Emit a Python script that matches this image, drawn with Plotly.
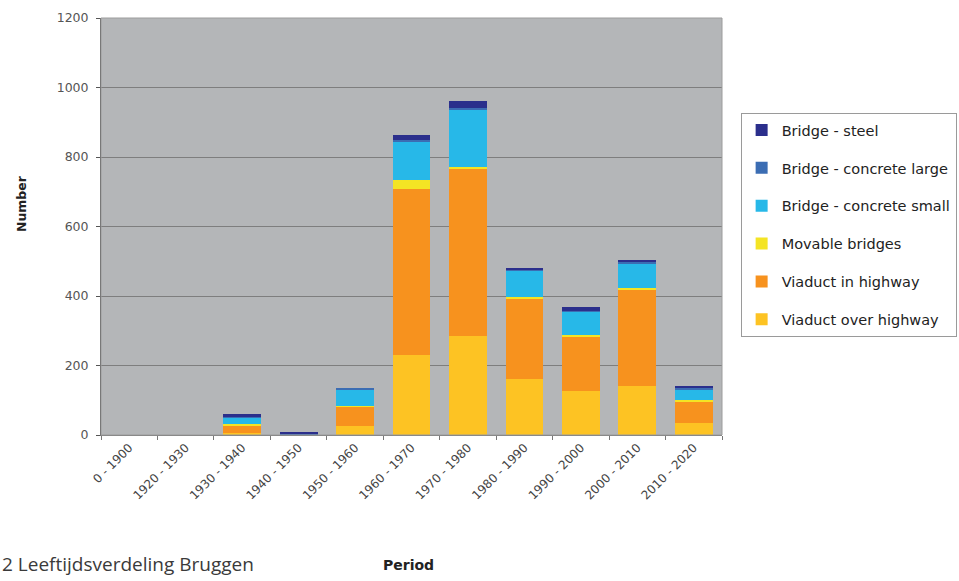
import plotly.graph_objects as go

# Age distribution of bridges per construction period
periods = ["0 - 1900", "1920 - 1930", "1930 - 1940", "1940 - 1950", "1950 - 1960",
           "1960 - 1970", "1970 - 1980", "1980 - 1990", "1990 - 2000", "2000 - 2010",
           "2010 - 2020"]

viaduct_over_highway = [0, 0, 5, 0, 26, 230, 284, 160, 127, 141, 34]
viaduct_in_highway = [0, 0, 20, 0, 55, 478, 484, 232, 155, 279, 62]
movable_bridges = [0, 0, 6, 0, 3, 26, 4, 5, 5, 2, 4]
bridge_concrete_small = [0, 0, 19, 0, 46, 111, 165, 76, 68, 72, 31]
bridge_concrete_large = [0, 0, 2, 3, 3, 4, 5, 3, 3, 3, 4]
bridge_steel = [0, 0, 8, 6, 0, 13, 19, 6, 9, 6, 6]

series = [
    ("Viaduct over highway", viaduct_over_highway, "#FDC323"),
    ("Viaduct in highway", viaduct_in_highway, "#F7921E"),
    ("Movable bridges", movable_bridges, "#F4E424"),
    ("Bridge - concrete small", bridge_concrete_small, "#27B8E8"),
    ("Bridge - concrete large", bridge_concrete_large, "#3B6DB3"),
    ("Bridge - steel", bridge_steel, "#2B2F8C"),
]

fig = go.Figure()
n = len(series)
for i, (name, values, color) in enumerate(series):
    fig.add_trace(go.Bar(
        x=periods, y=values, name=name, legendgroup=str(i),
        legendrank=n - i,
        marker=dict(color=color, line=dict(width=0)),
    ))

font_main = "DejaVu Sans"

fig.update_layout(
    width=959, height=581,
    barmode="stack", bargap=0.33,
    paper_bgcolor="white", plot_bgcolor="#B4B6B8",
    margin=dict(l=101, r=237, t=18, b=146, autoexpand=False),
    font=dict(family=font_main, size=12, color="#333333"),
    showlegend=True,
    legend=dict(
        x=1.03, y=0.772, xanchor="left", yanchor="top",
        traceorder="grouped", tracegroupgap=16,
        bordercolor="#9A9A9A", borderwidth=1, bgcolor="white",
        font=dict(family=font_main, size=14.5, color="#222222"),
        itemwidth=30,
    ),
    xaxis=dict(
        type="category", tickangle=-45, ticks="outside", tickson="boundaries",
        ticklen=4, tickcolor="#777777", showline=True, linecolor="#777777",
        linewidth=1, tickfont=dict(family=font_main, size=12, color="#444444"),
        showgrid=False, automargin=False,
    ),
    yaxis=dict(
        range=[0, 1200], dtick=200, ticks="outside", ticklen=4,
        tickcolor="#555555", showline=True, linecolor="#555555", linewidth=1,
        showgrid=True, gridcolor="#7E7E7E", gridwidth=1, ticklabelstandoff=5,
        tickfont=dict(family=font_main, size=12.5, color="#555555"), zeroline=False,
        automargin=False,
    ),
    annotations=[
        dict(text="<b>Number</b>", textangle=-90, xref="paper", yref="paper",
             x=-0.129, y=0.556, xanchor="center", yanchor="middle",
             showarrow=False, font=dict(family=font_main, size=12.5, color="#222222")),
        dict(text="<b>Period</b>", xref="paper", yref="paper",
             x=0.495, y=-0.312, xanchor="center", yanchor="middle",
             showarrow=False, font=dict(family=font_main, size=14, color="#222222")),
        dict(text="2 Leeftijdsverdeling Bruggen", xref="paper", yref="paper",
             x=-0.1626, y=-0.31, xanchor="left", yanchor="middle",
             showarrow=False,
             font=dict(family="Open Sans, sans-serif", size=19, color="#3A3A3A")),
    ],
    shapes=[
        dict(type="rect", xref="paper", yref="paper", x0=0, x1=1, y0=0, y1=1,
             line=dict(color="#9C9C9C", width=1), layer="above"),
    ],
)

fig.write_html("out.html")
